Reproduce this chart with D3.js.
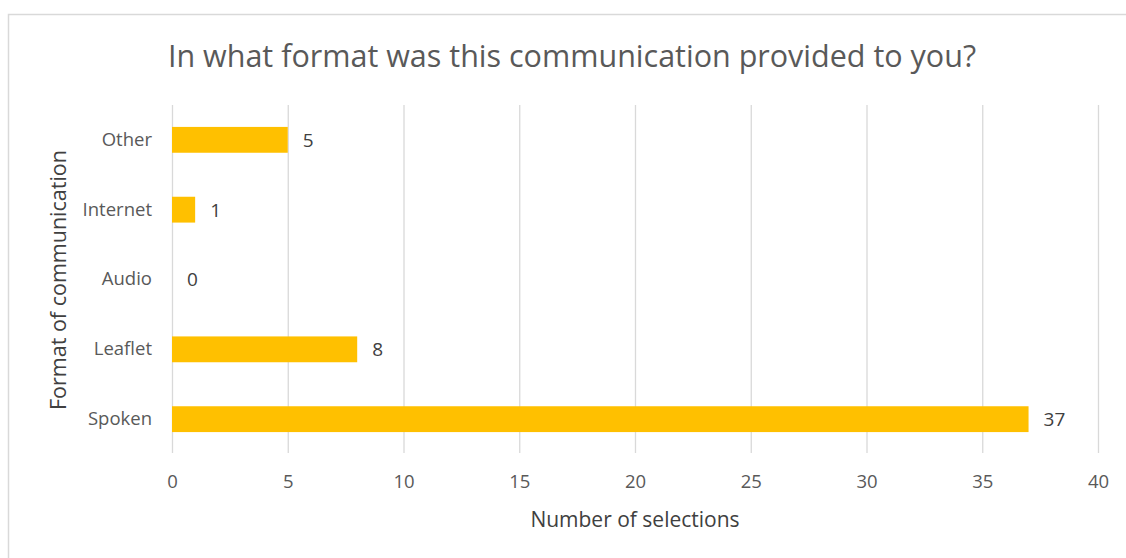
<!DOCTYPE html>
<html>
<head>
<meta charset="utf-8">
<script src="https://cdn.jsdelivr.net/npm/d3@7"></script>
<style>
  body { margin: 0; background: #fff; }
  svg text { font-family: "Open Sans", "Noto Sans", sans-serif; }
</style>
</head>
<body>
<svg id="chart" width="1126" height="558"></svg>
<script>
// chart data
const categories = ["Other", "Internet", "Audio", "Leaflet", "Spoken"];
const counts = [5, 1, 0, 8, 37];
const xTicks = [0, 5, 10, 15, 20, 25, 30, 35, 40];

const titleText = "In what format was this communication provided to you?";
const xTitle = "Number of selections";
const yTitle = "Format of communication";

const svg = d3.select("#chart");
const W = 1126, H = 558;
const plot = { left: 172, right: 1098, top: 105, bottom: 453 };

// outer chart frame (only top/left edges show in the crop)
svg.append("rect")
   .attr("x", 8.5).attr("y", 14.5)
   .attr("width", W + 10).attr("height", H + 10)
   .attr("fill", "#fff")
   .attr("stroke", "#d9d9d9")
   .attr("stroke-width", 1.5);

const x = d3.scaleLinear().domain([0, 40]).range([plot.left, plot.right]);
// band range a bit wider than the grid so the bars sit where they do in the picture
const y = d3.scaleBand().domain(categories).range([92, 467]).paddingInner(0.63).paddingOuter(0.5);

// vertical gridlines via axis
const grid = svg.append("g")
   .attr("transform", `translate(0,${plot.bottom})`)
   .call(d3.axisBottom(x).tickValues(xTicks).tickSize(-(plot.bottom - plot.top)).tickFormat(""));
grid.select(".domain").remove();
grid.selectAll("line").attr("stroke", "#d9d9d9").attr("stroke-width", 1.3);

// bars
svg.append("g").selectAll("rect")
   .data(categories)
   .enter()
   .append("rect")
   .attr("x", x(0))
   .attr("y", d => y(d))
   .attr("width", (d, i) => x(counts[i]) - x(0))
   .attr("height", y.bandwidth())
   .attr("fill", "#ffc000");

// value labels
svg.append("g").selectAll("text")
   .data(categories)
   .enter()
   .append("text")
   .attr("x", (d, i) => x(counts[i]) + 15)
   .attr("y", d => y(d) + y.bandwidth() / 2)
   .attr("dy", "0.36em")
   .attr("font-size", 19)
   .attr("fill", "#404040")
   .text((d, i) => counts[i]);

// x tick labels
const xAxis = svg.append("g")
   .attr("transform", `translate(0,${plot.bottom})`)
   .call(d3.axisBottom(x).tickValues(xTicks).tickSize(0).tickPadding(22));
xAxis.select(".domain").remove();
xAxis.selectAll("text")
   .attr("font-size", 18.5)
   .attr("font-family", "Open Sans")
   .attr("fill", "#595959");

// y category labels
const yAxis = svg.append("g")
   .attr("transform", `translate(${plot.left},0)`)
   .call(d3.axisLeft(y).tickSize(0).tickPadding(20));
yAxis.select(".domain").remove();
yAxis.selectAll("text")
   .attr("font-size", 18.5)
   .attr("font-family", "Open Sans")
   .attr("fill", "#595959");

// title
svg.append("text")
   .attr("x", 572).attr("y", 67)
   .attr("text-anchor", "middle")
   .attr("font-size", 30.5)
   .attr("fill", "#595959")
   .text(titleText);

// axis titles
svg.append("text")
   .attr("x", 635).attr("y", 527)
   .attr("text-anchor", "middle")
   .attr("font-size", 21)
   .attr("fill", "#404040")
   .text(xTitle);

svg.append("text")
   .attr("transform", "translate(66,280) rotate(-90)")
   .attr("text-anchor", "middle")
   .attr("font-size", 21.5)
   .attr("fill", "#404040")
   .text(yTitle);
</script>
</body>
</html>
